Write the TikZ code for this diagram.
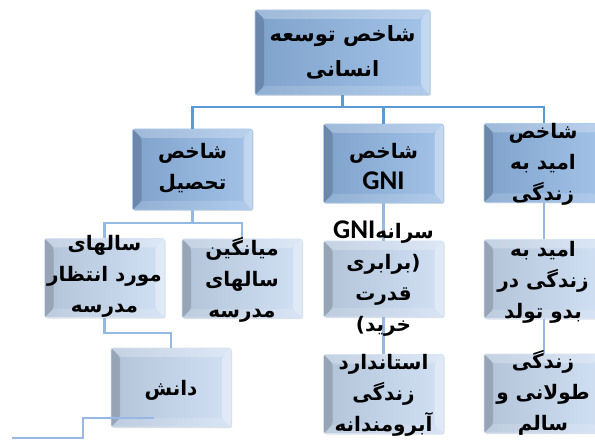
\documentclass[tikz,border=0pt]{standalone}
\usepackage{fontspec}
\usetikzlibrary{shadows}
\newfontfamily\fa[Script=Arabic]{DejaVu Sans}
\newfontfamily\en{Carlito}
\TeXXeTstate=1
\newcommand\rline[1]{\beginR#1\endR}
\newcommand\gni{\beginL\hbox{\en\bfseries\fontsize{27}{31}\selectfont GNI}\endL}

\definecolor{topblue}{RGB}{141,180,226}
\definecolor{lowblue}{RGB}{198,217,241}
\definecolor{linkdark}{RGB}{91,155,213}
\definecolor{linklight}{RGB}{149,185,228}

\tikzset{
  bevel/.style={rounded corners=2pt, inner sep=0pt,
    minimum width=120pt, minimum height=79pt,
    draw=#1!70!white, line width=0.6pt,
    left color=#1!90!black, right color=#1!80!white,
    drop shadow={opacity=0.25, shadow xshift=1pt, shadow yshift=-1pt},
    path picture={
      \coordinate (nw) at (path picture bounding box.north west);
      \coordinate (ne) at (path picture bounding box.north east);
      \coordinate (sw) at (path picture bounding box.south west);
      \coordinate (se) at (path picture bounding box.south east);
      \fill[white, opacity=0.25] (nw) -- (ne) -- ([shift={(-9pt,-9pt)}]ne) -- ([shift={(9pt,-9pt)}]nw) -- cycle;
      \fill[black, opacity=0.16] (nw) -- ([shift={(9pt,-9pt)}]nw) -- ([shift={(9pt,9pt)}]sw) -- (sw) -- cycle;
      \fill[white, opacity=0.35] (ne) -- ([shift={(-9pt,-9pt)}]ne) -- ([shift={(-9pt,9pt)}]se) -- (se) -- cycle;
      \fill[white, opacity=0.15] (sw) -- ([shift={(9pt,9pt)}]sw) -- ([shift={(-9pt,9pt)}]se) -- (se) -- cycle;
    }},
  lvlone/.style={bevel=topblue},
  lvltwo/.style={bevel=lowblue},
  txt/.style={font=\fa\bfseries\fontsize{20}{31}\selectfont, align=center, inner sep=0pt},
  link/.style={line width=2.5pt, linkdark},
  sublink/.style={line width=2.5pt, linklight}
}

\begin{document}
\begin{tikzpicture}[x=1pt,y=-1pt]

\useasboundingbox (0,0) rectangle (595,441);

% boxes
\node [lvlone, minimum width=175pt, minimum height=85pt] (top) at (342.5,52.5) {};
\node [lvlone, minimum height=81pt] (tahsil) at (192.5,169.5) {};
\node [lvlone] (gnibox) at (383.5,163.5) {};
\node [lvlone] (life) at (544,163) {};

\node [lvltwo] (entezar) at (104.5,278) {};
\node [lvltwo] (miyangin) at (242,278.5) {};
\node [lvltwo, minimum height=76pt] (sarane) at (383.5,279) {};
\node [lvltwo] (birth) at (544,279) {};

\node [lvltwo] (danesh) at (171,387.5) {};
\node [lvltwo] (standard) at (383.5,394) {};
\node [lvltwo] (healthy) at (544,393.5) {};

% connectors
\coordinate (hub) at (342.5,107);
\draw [link] (top.south) -- (hub) -| (tahsil.north);
\draw [link] (hub) -| (gnibox.north);
\draw [link] (hub) -| (life.north);

\coordinate (hubtwo) at (192.5,223);
\draw [sublink] (tahsil.south) -- (hubtwo) -| (entezar.north);
\draw [sublink] (hubtwo) -| (miyangin.north);
\draw [sublink] (entezar.south) -- ++(0,15) -| (danesh.north);

\draw [sublink] (gnibox.south) -- (sarane.north);
\draw [sublink] (sarane.south) -- (standard.north);
\draw [sublink] (life.south) -- (birth.north);
\draw [sublink] (birth.south) -- (healthy.north);

\coordinate (dstart) at (154,418);
\coordinate (tail) at (12,438);
\draw [sublink] (dstart) -- ++(-71,0) |- (tail);

% texts
\node [txt, font=\fa\bfseries\fontsize{21}{35}\selectfont] (toptxt) at (342.5,52) {\rline{شاخص توسعه}\\\rline{انسانی}};
\node [txt] (tahsiltxt) at (192.5,168) {\rline{شاخص}\\\rline{تحصیل}};
\node [txt] (gnitxt) at (383.5,166) {\rline{شاخص}\\\gni};
\node [txt] (lifetxt) at (543,164) {\rline{شاخص}\\\rline{امید به}\\\rline{زندگی}};

\node [txt] (entezartxt) at (104.5,276) {\rline{سالهای}\\\rline{مورد انتظار}\\\rline{مدرسه}};
\node [txt] (miyangintxt) at (242,280) {\rline{میانگین}\\\rline{سالهای}\\\rline{مدرسه}};
\node [txt] (saranetxt) at (383.5,279) {\rline{سرانه\gni}\\\rline{برابری}\hbox{(}\\\rline{قدرت}\\\hbox{)}\rline{خرید}};
\node [txt] (birthtxt) at (543,282) {\rline{امید به}\\\rline{زندگی در}\\\rline{بدو تولد}};

\node [txt] (daneshtxt) at (171,390) {\rline{دانش}};
\node [txt] (standardtxt) at (383.5,395) {\rline{استاندارد}\\\rline{زندگی}\\\rline{آبرومندانه}};
\node [txt] (healthytxt) at (543,393) {\rline{زندگی}\\\rline{طولانی و}\\\rline{سالم}};

\end{tikzpicture}
\end{document}
